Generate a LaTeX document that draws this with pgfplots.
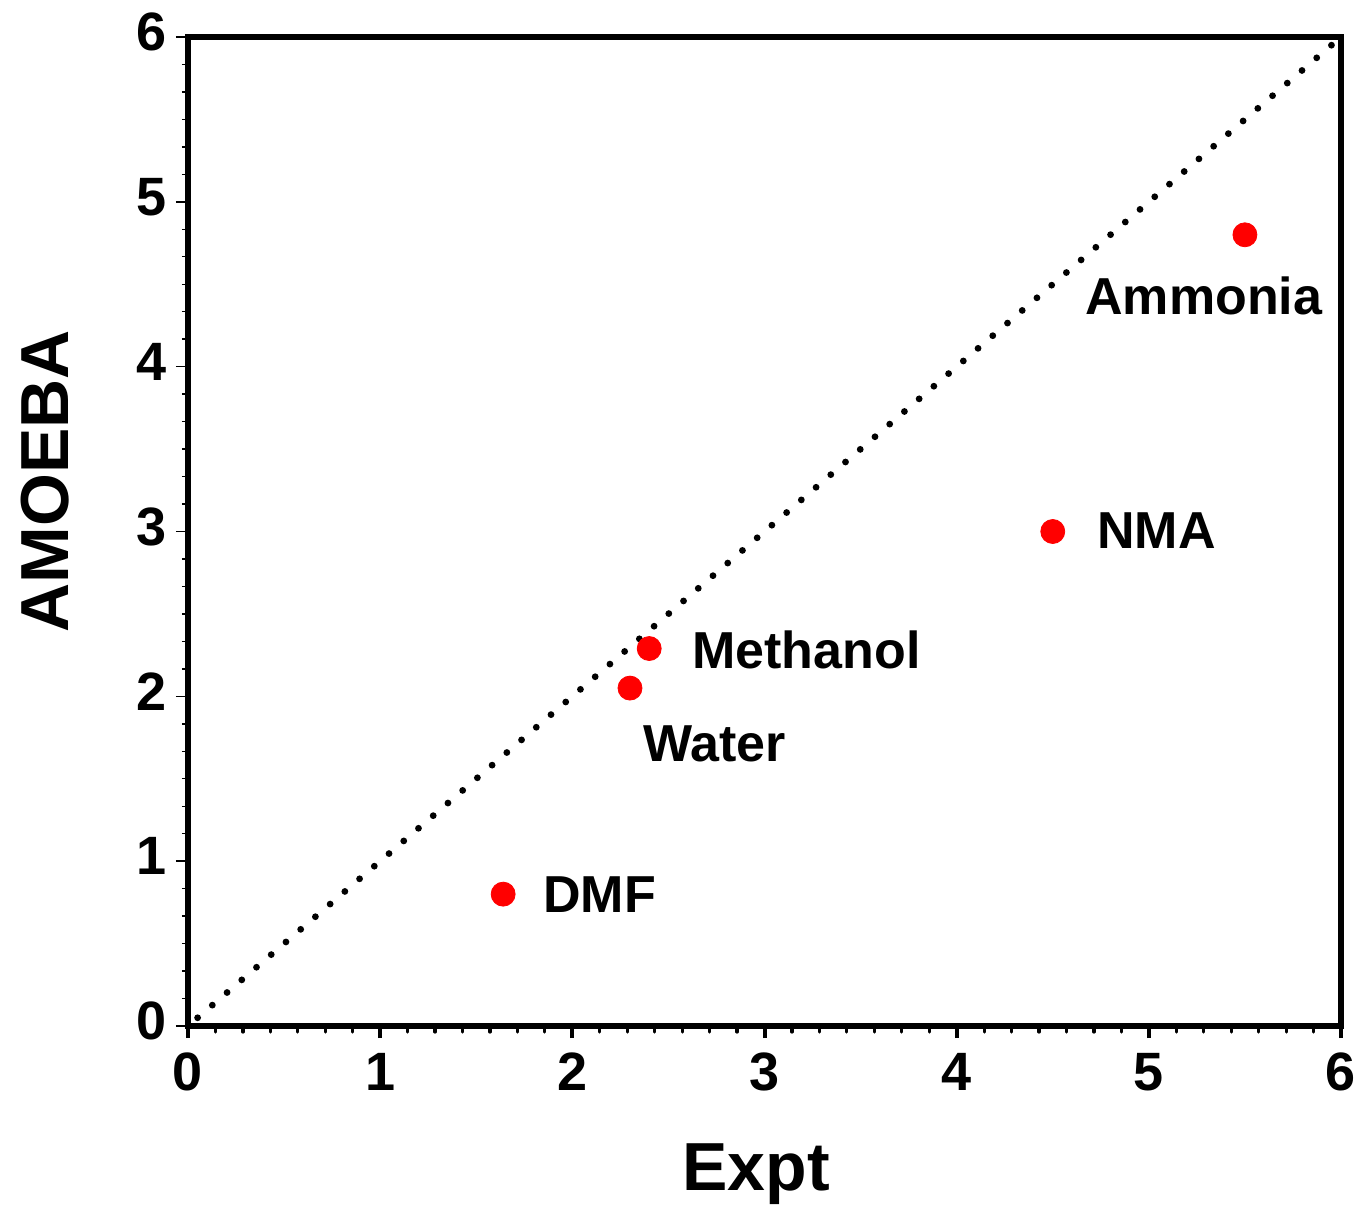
\documentclass[border=0pt]{standalone}
\usepackage{fontspec}
\setmainfont{Liberation Sans}
\usepackage{pgfplots}
\pgfplotsset{compat=1.18}
\begin{document}
\begin{tikzpicture}
\begin{axis}[
  name=ax,
  scale only axis,
  width=576.5pt, height=494.5pt,
  xmin=0, xmax=6, ymin=0, ymax=6,
  xtick={0,1,2,3,4,5,6}, ytick={0,1,2,3,4,5,6},
  xticklabels={0,1,2,3,4,5,6}, yticklabels={0,1,2,3,4,5,6},
  minor x tick num=6, minor y tick num=5,
  tick align=outside,
  xtick pos=bottom, ytick pos=left,
  axis line style={line width=3pt},
  major tick length=6pt, minor tick length=3pt,
  major x tick style={line width=2pt, black},
  minor x tick style={line width=1.6pt, black, line cap=round},
  major y tick style={line width=0.8pt, black},
  minor y tick style={line width=0.7pt, black},
  ticklabel style={font=\bfseries\fontsize{27}{27}\selectfont},
  xticklabel style={yshift=-4pt},
  yticklabel style={xshift=-1pt, yshift=2.5pt},
  xlabel={Expt}, ylabel={AMOEBA},
  label style={font=\bfseries\fontsize{34}{34}\selectfont},
  xlabel style={at={(axis description cs:0.4926,-0.166)}, anchor=base},
  ylabel style={at={(axis description cs:-0.104,0.551)}, anchor=base, rotate=0},
  clip=false,
]
\addplot[black, line width=3.4pt, line cap=round, dash pattern=on 0pt off 9.7pt] coordinates {(0.05,0.05) (5.97,5.97)};
\addplot[only marks, mark=*, mark size=6pt, red, mark options={fill=red, draw=red}] coordinates {
  (1.64,0.80) (2.30,2.05) (2.40,2.29) (4.50,3.00) (5.50,4.80)
};
\node[anchor=base west, inner sep=0, font=\bfseries\fontsize{26}{26}\selectfont] at (axis cs:1.847,0.69) {DMF};
\node[anchor=base west, inner sep=0, font=\bfseries\fontsize{26}{26}\selectfont] at (axis cs:2.622,2.166) {Methanol};
\node[anchor=base west, inner sep=0, font=\bfseries\fontsize{26}{26}\selectfont] at (axis cs:4.73,2.894) {NMA};
\node[anchor=base west, inner sep=0, font=\bfseries\fontsize{26}{26}\selectfont] at (axis cs:2.367,1.602) {Water};
\node[anchor=base west, inner sep=0, font=\bfseries\fontsize{26}{26}\selectfont] at (axis cs:4.667,4.314) {Ammonia};
\end{axis}
\pgfresetboundingbox
\path[use as bounding box] ([shift={(-94pt,-89pt)}]ax.south west) rectangle ([shift={(9pt,18.5pt)}]ax.north east);
\end{tikzpicture}
\end{document}
